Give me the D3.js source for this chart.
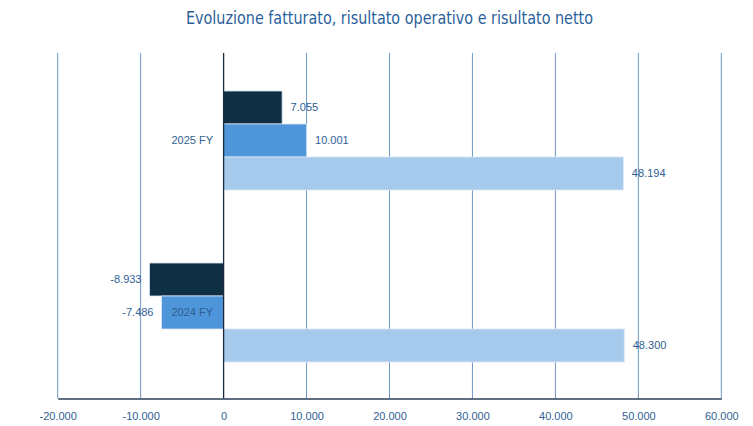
<!DOCTYPE html>
<html>
<head>
<meta charset="utf-8">
<script src="https://cdn.jsdelivr.net/npm/d3@7"></script>
<style>
  body { margin: 0; background: #fff; }
  svg { display: block; }
</style>
</head>
<body>
<svg id="chart"></svg>
<script>
// data
var categories = ["2025 FY", "2024 FY"];
var seriesNames = ["Risultato netto", "Risultato operativo", "Fatturato"];
var netto = [7055, -8933];
var operativo = [10001, -7486];
var fatturato = [48194, 48300];
var xTicks = [-20000, -10000, 0, 10000, 20000, 30000, 40000, 50000, 60000];
var seriesColors = ["#0e2f44", "#4e95d9", "#a6caec"];

var width = 753, height = 426;
var plotLeft = 57.7, plotRight = 721.3, plotTop = 54.5, plotBottom = 398.5;
var labelColor = "#2f5f94";

var svg = d3.select("#chart").attr("width", width).attr("height", height);

var it = d3.formatLocale({decimal: ",", thousands: ".", grouping: [3], currency: ["€", ""], minus: "-"});
var fmt = it.format(",d");

var x = d3.scaleLinear().domain([-20000, 60000]).range([plotLeft, plotRight]);
var y0 = d3.scaleBand().domain(categories).range([plotTop, plotBottom]).paddingInner(0.4244).paddingOuter(0.2122);
var y1 = d3.scaleBand().domain(seriesNames).range([0, y0.bandwidth()]);

var rows = [];
categories.forEach((c, i) => {
    rows.push({cat: c, name: seriesNames[0], value: netto[i], color: seriesColors[0]});
    rows.push({cat: c, name: seriesNames[1], value: operativo[i], color: seriesColors[1]});
    rows.push({cat: c, name: seriesNames[2], value: fatturato[i], color: seriesColors[2]});
});

// title
svg.append("text")
    .attr("x", (plotLeft + plotRight) / 2)
    .attr("y", 24)
    .attr("text-anchor", "middle")
    .attr("fill", "#2b5f9b")
    .attr("textLength", 407)
    .attr("lengthAdjust", "spacingAndGlyphs")
    .style("font-family", "'Liberation Sans Narrow', 'DejaVu Sans Condensed', sans-serif")
    .style("font-size", "18px")
    .text("Evoluzione fatturato, risultato operativo e risultato netto");

// gridlines
svg.append("g")
    .selectAll("line")
    .data(xTicks.filter(d => d !== 0))
    .join("line")
    .attr("x1", d => x(d)).attr("x2", d => x(d))
    .attr("y1", 53).attr("y2", plotBottom)
    .attr("stroke", "#6f98c6")
    .attr("stroke-width", 1);

// bars
svg.append("g")
    .selectAll("rect")
    .data(rows)
    .join("rect")
    .attr("x", d => x(Math.min(0, d.value)))
    .attr("width", d => Math.abs(x(d.value) - x(0)))
    .attr("y", d => y0(d.cat) + y1(d.name))
    .attr("height", y1.bandwidth())
    .attr("fill", d => d.color)
    .attr("stroke", "#dbe7f3")
    .attr("stroke-width", 0.8);

// zero line
svg.append("line")
    .attr("x1", x(0)).attr("x2", x(0))
    .attr("y1", 53).attr("y2", plotBottom)
    .attr("stroke", "#1a2a3a")
    .attr("stroke-width", 1.3);

// bottom axis
var axis = svg.append("g")
    .attr("transform", `translate(0,${plotBottom})`)
    .call(d3.axisBottom(x).tickValues(xTicks).tickFormat(fmt).tickSize(0).tickPadding(14));
axis.select(".domain").attr("stroke", "#2a3f55").attr("stroke-width", 1.5);
axis.selectAll("text")
    .attr("fill", labelColor)
    .style("font-family", "'Liberation Sans', Arial, sans-serif")
    .style("font-size", "11px");

// value labels
svg.append("g")
    .selectAll("text")
    .data(rows)
    .join("text")
    .attr("x", d => d.value >= 0 ? x(d.value) + 8.5 : x(d.value) - 8)
    .attr("y", d => y0(d.cat) + y1(d.name) + y1.bandwidth() / 2)
    .attr("dy", "0.35em")
    .attr("text-anchor", d => d.value >= 0 ? "start" : "end")
    .attr("fill", labelColor)
    .style("font-family", "'Liberation Sans', Arial, sans-serif")
    .style("font-size", "11px")
    .text(d => fmt(d.value));

// category labels next to the zero line
svg.append("g")
    .selectAll("text")
    .data(categories)
    .join("text")
    .attr("x", x(0) - 10.5)
    .attr("y", d => y0(d) + y0.bandwidth() / 2)
    .attr("dy", "0.35em")
    .attr("text-anchor", "end")
    .attr("fill", labelColor)
    .style("font-family", "'Liberation Sans', Arial, sans-serif")
    .style("font-size", "11px")
    .text(d => d);
</script>
</body>
</html>
